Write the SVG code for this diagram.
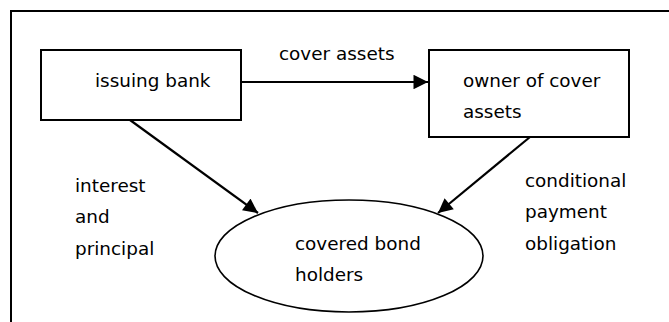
<svg xmlns="http://www.w3.org/2000/svg" width="669" height="322" viewBox="0 0 669 322">
  <style>
    .box { fill: #fff; stroke: #000; stroke-width: 2; }
    .oval { fill: #fff; stroke: #000; stroke-width: 1.6; }
    .edge { fill: none; stroke: #000; stroke-width: 2.2; }
    text { font-family: "DejaVu Sans", Verdana, sans-serif; font-size: 18.4px; fill: #000; }
  </style>
  <defs>
    <marker id="arrow" viewBox="0 0 10 10" refX="10" refY="5" markerWidth="7" markerHeight="6.6" markerUnits="strokeWidth" orient="auto">
      <path d="M0,0 L10,5 L0,10 Z" fill="#000"/>
    </marker>
  </defs>

  <rect width="669" height="322" fill="#fff"/>
  <!-- outer frame, running off the right and bottom edges -->
  <path d="M11,330 L11,11 L680,11" fill="none" stroke="#000" stroke-width="2"/>

  <g id="connectors">
    <line class="edge" x1="241" y1="82" x2="428" y2="82" marker-end="url(#arrow)"/>
    <line class="edge" x1="130" y1="120" x2="258" y2="213" marker-end="url(#arrow)"/>
    <line class="edge" x1="530" y1="137" x2="438" y2="213" marker-end="url(#arrow)"/>
    <text x="279" y="60">cover assets</text>
    <text x="75" y="192">interest</text>
    <text x="75" y="223">and</text>
    <text x="75" y="255">principal</text>
    <text x="525" y="187">conditional</text>
    <text x="525" y="218">payment</text>
    <text x="525" y="250">obligation</text>
  </g>

  <g id="issuing-bank">
    <rect class="box" x="41" y="50" width="200" height="70"/>
    <text x="95" y="87">issuing bank</text>
  </g>

  <g id="owner-of-cover-assets">
    <rect class="box" x="429" y="50" width="200" height="87"/>
    <text x="463" y="87">owner of cover</text>
    <text x="463" y="118">assets</text>
  </g>

  <g id="covered-bond-holders">
    <ellipse class="oval" cx="349" cy="256" rx="134" ry="56"/>
    <text x="295" y="250">covered bond</text>
    <text x="295" y="281">holders</text>
  </g>
</svg>
